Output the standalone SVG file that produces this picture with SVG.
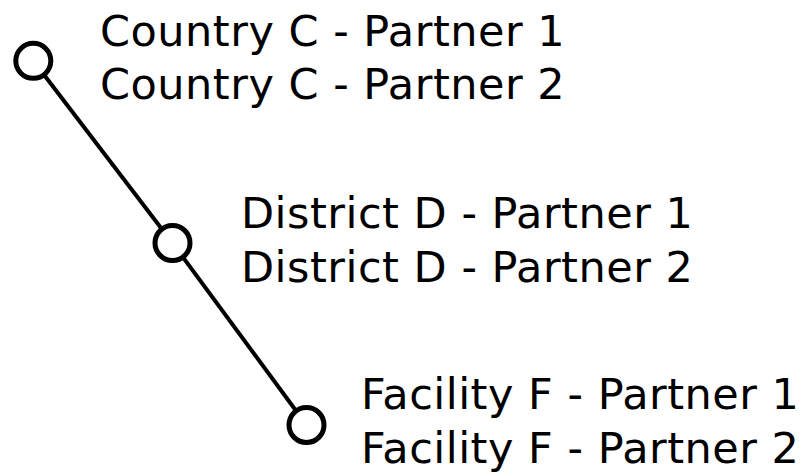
<svg xmlns="http://www.w3.org/2000/svg" width="801" height="472" viewBox="0 0 801 472">
<style>
.lbl{font-family:"DejaVu Sans",sans-serif;font-size:43px;letter-spacing:0.5px;fill:#000}
.node circle{fill:#fff;stroke:#000;stroke-width:5}
.edge{stroke:#000;stroke-width:4;fill:none}
</style>
<rect width="801" height="472" fill="#fff"/>
<g id="connectors">
<line class="edge" x1="33.3" y1="60.8" x2="172.5" y2="243"/>
<line class="edge" x1="172.5" y1="243" x2="306.5" y2="425"/>
</g>
<g id="country" class="node">
<circle cx="33.3" cy="60.8" r="17.5"/>
<text class="lbl" x="100" y="46">Country C - Partner 1</text>
<text class="lbl" x="100" y="99">Country C - Partner 2</text>
</g>
<g id="district" class="node">
<circle cx="172.5" cy="243" r="17.5"/>
<text class="lbl" x="241" y="228">District D - Partner 1</text>
<text class="lbl" x="241" y="282">District D - Partner 2</text>
</g>
<g id="facility" class="node">
<circle cx="306.5" cy="425" r="17.5"/>
<text class="lbl" x="361" y="409">Facility F - Partner 1</text>
<text class="lbl" x="361" y="463">Facility F - Partner 2</text>
</g>
</svg>
